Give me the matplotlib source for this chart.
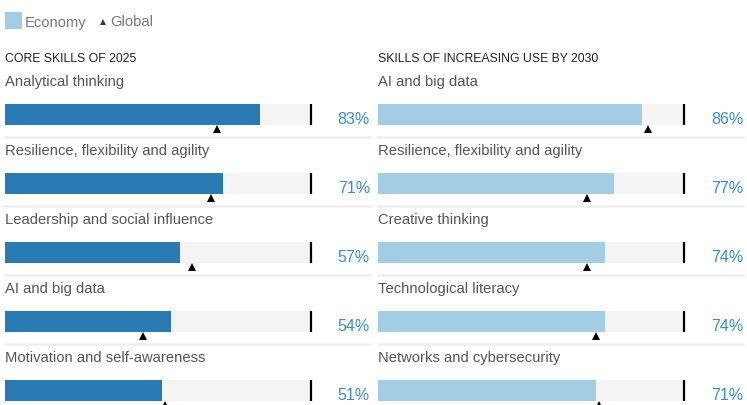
import matplotlib
matplotlib.use("Agg")
import matplotlib.pyplot as plt
from matplotlib.patches import Rectangle

plt.rcParams['font.family'] = ['Liberation Sans', 'DejaVu Sans']

# data
left_title = "CORE SKILLS OF 2025"
left_skills = ["Analytical thinking", "Resilience, flexibility and agility",
               "Leadership and social influence", "AI and big data",
               "Motivation and self-awareness"]
left_economy = [83, 71, 57, 54, 51]
left_global = [69, 67, 61, 45, 52]

right_title = "SKILLS OF INCREASING USE BY 2030"
right_skills = ["AI and big data", "Resilience, flexibility and agility",
                "Creative thinking", "Technological literacy",
                "Networks and cybersecurity"]
right_economy = [86, 77, 74, 74, 71]
right_global = [88, 68, 68, 71, 72]

W, H = 747, 405
DARK = "#2a7ab4"
LIGHT = "#a2cde5"
TRACK = "#f4f4f4"
PCT = "#3a8ccc"
GREY = "#555555"

fig = plt.figure(figsize=(W / 100, H / 100), dpi=100)


def panel(x0, title, skills, economy, glob, color):
    # axes is 307 px wide for 0..100, full figure height in pixel units
    ax = fig.add_axes([x0 / W, 0, 307 / W, 1])
    ax.set_xlim(0, 100)
    ax.set_ylim(H, 0)
    ax.axis("off")
    px = 100 / 307.0  # data units per pixel
    ax.text(0, 62, title, fontsize=8.8, color="#222222", va="baseline")
    for i, (name, e, g) in enumerate(zip(skills, economy, glob)):
        top = 104 + 69 * i
        ax.text(0, top - 18, name, fontsize=10.6, color=GREY, va="baseline")
        ax.barh(top + 10.5, 100, height=21, color=TRACK, clip_on=False)
        ax.barh(top + 10.5, e, height=21, color=color, clip_on=False)
        ax.plot([100 - px, 100 - px], [top, top + 21], color="black", lw=1.6,
                solid_capstyle="butt", clip_on=False)
        ax.plot(g, top + 25, marker="^", color="black", ms=5.3, mew=0, clip_on=False)
        ax.plot([0, 100 + 58 * px], [top + 33, top + 33], color="#efefef",
                lw=1.8, clip_on=False)
        ax.text(100 + 58 * px, top + 20, f"{e}%", fontsize=11.5, color=PCT,
                ha="right", va="baseline", clip_on=False)
    return ax


panel(5, left_title, left_skills, left_economy, left_global, DARK)
panel(378, right_title, right_skills, right_economy, right_global, LIGHT)

# legend
lg = fig.add_axes([0, 0, 1, 1])
lg.set_xlim(0, W)
lg.set_ylim(H, 0)
lg.axis("off")
lg.add_patch(Rectangle((5, 12), 17, 17, color=LIGHT, lw=0))
lg.text(25, 26.5, "Economy", fontsize=10.6, color="#777777", va="baseline")
lg.plot(103, 22, marker="^", color="#1f3f6e", ms=4, mew=0)
lg.text(110, 26.5, "Global", fontsize=10.6, color="#777777", va="baseline")

fig.savefig("out.png", dpi=100)
